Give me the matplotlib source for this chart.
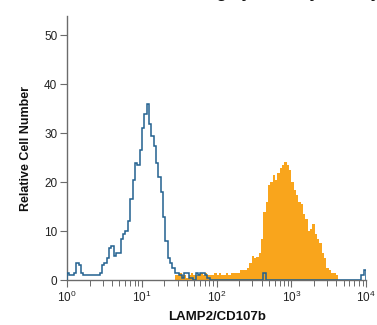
import numpy as np
import matplotlib
matplotlib.use("Agg")
import matplotlib.pyplot as plt

plt.rcParams['font.family'] = ['Liberation Sans', 'DejaVu Sans']
plt.rcParams['mathtext.fontset'] = 'custom'
plt.rcParams['mathtext.rm'] = 'Liberation Sans'
plt.rcParams['mathtext.it'] = 'Liberation Sans:italic'
plt.rcParams['mathtext.bf'] = 'Liberation Sans:bold'

# 128 log-spaced channels over 10^0 .. 10^4
n_bins = 128
x_min_exp, x_max_exp = 0, 4

blue_counts = [
    1.5, 1.0, 1.0, 1.5, 3.5, 3.0, 1.5, 1.0, 1.0, 1.0,
    1.0, 1.0, 1.0, 1.0, 1.5, 3.0, 3.5, 4.5, 6.5, 7.0,
    5.0, 5.5, 5.5, 8.5, 9.5, 10.0, 12.0, 16.5, 20.5, 24.0,
    23.5, 26.5, 31.0, 34.0, 36.0, 32.0, 29.5, 27.5, 24.0, 21.0,
    18.0, 13.0, 8.0, 4.5, 3.5, 2.5, 1.5, 1.5, 1.0, 0.5,
    1.5, 1.5, 0.5, 0.5, 0.0, 1.5, 1.0, 1.5, 1.5, 1.0,
    0.5, 0.0, 0.0, 0.0, 0.0, 0.0, 0.0, 0.0, 0.0, 0.0,
    0.0, 0.0, 0.0, 0.0, 0.0, 0.0, 0.0, 0.0, 0.0, 0.0,
    0.0, 0.0, 0.0, 0.0, 1.5, 0.0, 0.0, 0.0, 0.0, 0.0,
    0.0, 0.0, 0.0, 0.0, 0.0, 0.0, 0.0, 0.0, 0.0, 0.0,
    0.0, 0.0, 0.0, 0.0, 0.0, 0.0, 0.0, 0.0, 0.0, 0.0,
    0.0, 0.0, 0.0, 0.0, 0.0, 0.0, 0.0, 0.0, 0.0, 0.0,
    0.0, 0.0, 0.0, 0.0, 0.0, 0.0, 1.0, 2.0,
]

orange_counts = [0.0] * 46 + [
    1.0, 1.0, 1.5, 1.0, 1.0, 0.5, 1.0, 1.5, 1.0, 1.0,
    1.0, 1.5, 1.0, 1.5, 1.0, 1.0, 1.0, 1.5, 1.0, 1.5,
    1.0, 1.0, 1.5, 1.0, 1.5, 1.5, 1.5, 1.5, 2.0, 2.0,
    2.0, 2.5, 3.5, 5.0, 4.5, 4.7, 5.5, 8.5, 14.0, 16.0,
    19.5, 20.0, 21.5, 20.5, 22.0, 23.0, 23.5, 24.2, 23.5, 22.5,
    20.0, 18.5, 17.5, 16.0, 15.5, 13.5, 12.5, 10.0, 10.5, 11.5,
    9.5, 8.5, 7.5, 5.5, 4.5, 2.5, 2.0, 1.5, 1.5, 1.0,
] + [0.0] * 12

y_ticks = [0, 10, 20, 30, 40, 50]
x_major = [1, 10, 100, 1000, 10000]
x_labels = ['$10^0$', '$10^1$', '$10^2$', '$10^3$', '$10^4$']

edges = np.logspace(x_min_exp, x_max_exp, n_bins + 1)

fig = plt.figure(figsize=(3.77, 3.25), dpi=100)
ax = fig.add_axes([0.178, 0.138, 0.793, 0.813])

ax.stairs(orange_counts, edges, fill=True, color='#f9a51c', lw=0, zorder=2)
ax.stairs(blue_counts, edges, color='#22618f', lw=1.1, zorder=3)

ax.set_xscale('log')
ax.set_xlim(1, 1e4)
ax.set_ylim(0, 54)
ax.set_yticks(y_ticks)
ax.set_xticks(x_major)
ax.set_xticklabels(x_labels)
ax.xaxis.set_minor_locator(matplotlib.ticker.LogLocator(base=10, subs=np.arange(2, 10)))
ax.xaxis.set_minor_formatter(matplotlib.ticker.NullFormatter())

for s in ['top', 'right']:
    ax.spines[s].set_visible(False)
for s in ['left', 'bottom']:
    ax.spines[s].set_color('#6b6b6b')
    ax.spines[s].set_linewidth(1.0)

ax.tick_params(axis='both', which='major', length=5, width=0.8, color='#6b6b6b',
               labelsize=8.5, labelcolor='#222222', pad=2)
ax.tick_params(axis='x', which='minor', length=4, width=0.7, color='#6b6b6b')

ax.set_ylabel('Relative Cell Number', fontsize=9, fontweight='bold', labelpad=9, color='#111111')
ax.set_xlabel('LAMP2/CD107b', fontsize=9.5, fontweight='bold', labelpad=4, color='#111111')

fig.text(0.55, 1 + 2 / 325, 'LAMP2/CD107b Staining by Flow Cytometry',
         ha='center', va='baseline', fontsize=12, fontweight='bold', color='#111111')

fig.savefig('out.png', dpi=100)
